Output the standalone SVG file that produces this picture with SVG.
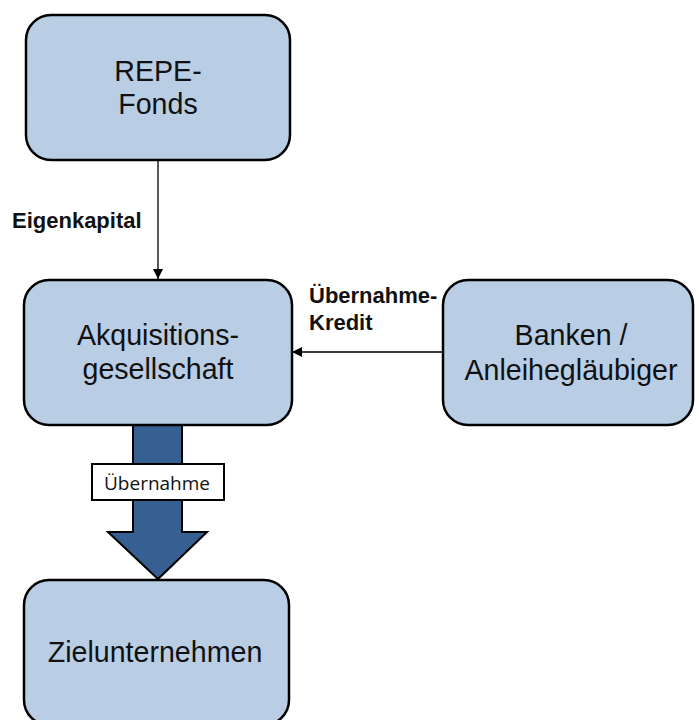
<svg xmlns="http://www.w3.org/2000/svg" width="699" height="720" viewBox="0 0 699 720">
  <defs>
    <marker id="arrowhead" viewBox="0 0 10 10" refX="10" refY="5" markerWidth="10" markerHeight="10" markerUnits="userSpaceOnUse" orient="auto">
      <path d="M0,0 L10,5 L0,10 Z" fill="#000"/>
    </marker>
    <style>
      .box { fill: #B9CDE5; stroke: #000; stroke-width: 2.5; }
      .lbl { font-family: "Liberation Sans", Arial, sans-serif; font-size: 28.6px; fill: #111; text-anchor: middle; }
      .edge { font-family: "Liberation Sans", Arial, sans-serif; font-size: 22px; font-weight: bold; fill: #111; }
      .conn { stroke: #000; stroke-width: 1.3; fill: none; marker-end: url(#arrowhead); }
    </style>
  </defs>
  <rect width="699" height="720" fill="#fff"/>

  <g id="connectors">
    <line class="conn" x1="158" y1="161" x2="158" y2="279"/>
    <line class="conn" x1="443" y1="352" x2="292" y2="352"/>
    <text class="edge" x="12" y="228">Eigenkapital</text>
    <text class="edge" x="309" y="303">Übernahme-</text>
    <text class="edge" x="309" y="330">Kredit</text>
    <g id="takeover">
      <polygon points="133,425 182,425 182,532 207,532 158,579 108,532 133,532" fill="#376092" stroke="#000" stroke-width="2"/>
      <rect x="92" y="464" width="132" height="36" fill="#fff" stroke="#000" stroke-width="2"/>
      <text x="157" y="490" font-family="'Open Sans', 'Noto Sans', sans-serif" font-size="19" fill="#111" text-anchor="middle">Übernahme</text>
    </g>
  </g>

  <g id="repe-fonds">
    <rect class="box" x="26" y="15" width="264" height="145" rx="25"/>
    <text class="lbl" x="158" y="81">REPE-</text>
    <text class="lbl" x="158" y="114">Fonds</text>
  </g>

  <g id="akquisitionsgesellschaft">
    <rect class="box" x="24" y="280" width="268" height="145" rx="25"/>
    <text class="lbl" x="158" y="345">Akquisitions-</text>
    <text class="lbl" x="158" y="379">gesellschaft</text>
  </g>

  <g id="banken">
    <rect class="box" x="443" y="280" width="250" height="145" rx="25"/>
    <text class="lbl" x="571" y="345">Banken /</text>
    <text class="lbl" x="571" y="380">Anleihegläubiger</text>
  </g>

  <g id="zielunternehmen">
    <rect class="box" x="24" y="580" width="265" height="145" rx="25"/>
    <text class="lbl" x="155" y="662">Zielunternehmen</text>
  </g>
</svg>
